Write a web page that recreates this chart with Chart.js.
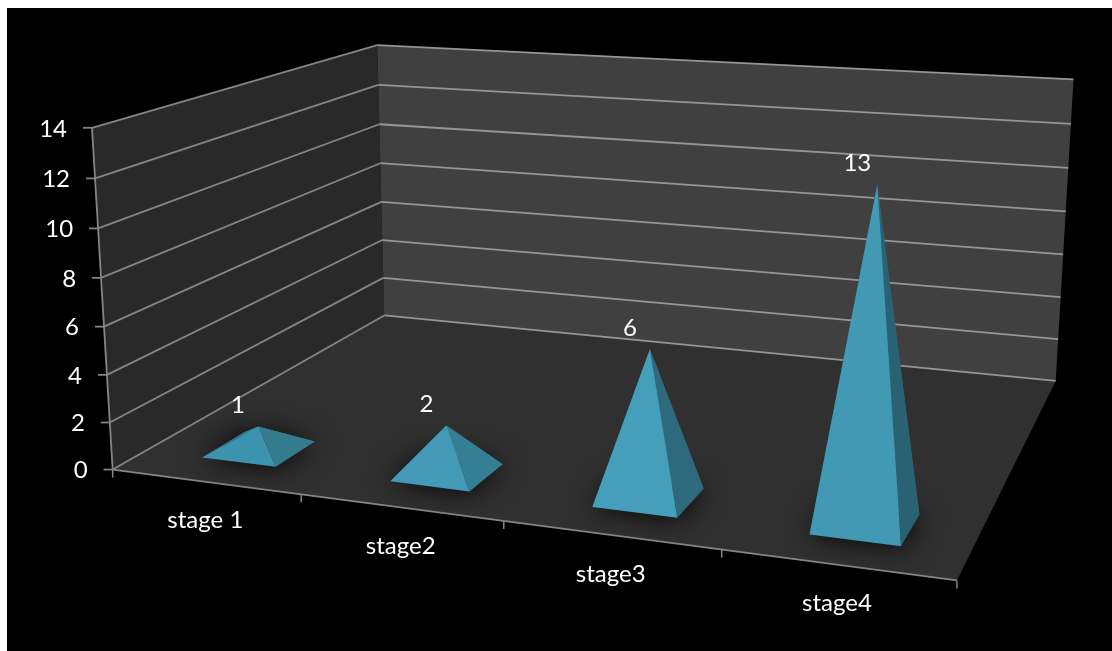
<!DOCTYPE html>
<html>
<head>
<meta charset="utf-8">
<title>Stages</title>
<script src="https://cdn.jsdelivr.net/npm/chart.js@4"></script>
<style>
    html, body { margin: 0; padding: 0; background: #fff; }
    canvas { display: block; }
</style>
</head>
<body>
<canvas id="grafico" width="1112" height="651"></canvas>
<script>
const categorias = ['stage 1', 'stage2', 'stage3', 'stage4'];
const valores = [1, 2, 6, 13];
const escalaMax = 14;
const escalaPaso = 2;

// Colores de cada piramide
const caraFrontal = ['#3c93ad', '#429ab6', '#459fbb', '#4199b4'];
const caraLateral = ['#347b8e', '#347f93', '#2e697e', '#2a6274'];

// Caja del grafico 3D: [u, v, w] -> pixel, u = categorias, v = valor, w = fondo
const esquinas = [
    [[0, 0, 0], [113.3, 469.3]],
    [[0, 1, 0], [91.7, 128.3]],
    [[0, 0, 1], [384, 316]],
    [[0, 1, 1], [377.7, 44.3]],
    [[1, 1, 1], [1073.3, 80]],
    [[1, 0, 1], [1055.7, 380.7]],
    [[1, 0, 0], [958.3, 580]],
    [[0.25, 0, 0], [301, 494.5]],
    [[0.5, 0, 0], [503.5, 521]],
    [[0.75, 0, 0], [720.5, 549.5]]
];
const fondoBase = [0.1, 0.235];
const ajusteBase = 0.002;

function resolver(A, b) {
    const n = b.length;
    for (let i = 0; i < n; i++) {
        let p = i;
        for (let f = i + 1; f < n; f++) {
            if (Math.abs(A[f][i]) > Math.abs(A[p][i])) p = f;
        }
        [A[i], A[p]] = [A[p], A[i]];
        [b[i], b[p]] = [b[p], b[i]];
        for (let f = i + 1; f < n; f++) {
            const k = A[f][i] / A[i][i];
            for (let c = i; c < n; c++) A[f][c] -= k * A[i][c];
            b[f] -= k * b[i];
        }
    }
    const x = new Array(n).fill(0);
    for (let i = n - 1; i >= 0; i--) {
        let s = b[i];
        for (let c = i + 1; c < n; c++) s -= A[i][c] * x[c];
        x[i] = s / A[i][i];
    }
    return x;
}

// Ajusta la matriz de proyeccion por minimos cuadrados
function ajustarCamara(puntos) {
    const filas = [];
    const lado = [];
    puntos.forEach(([[u, v, w], [px, py]]) => {
        const x = px / 1000, y = py / 1000;
        filas.push([u, v, w, 1, 0, 0, 0, 0, -x * u, -x * v, -x * w]);
        lado.push(x);
        filas.push([0, 0, 0, 0, u, v, w, 1, -y * u, -y * v, -y * w]);
        lado.push(y);
    });
    const A = [];
    const b = [];
    for (let i = 0; i < 11; i++) {
        A.push([]);
        for (let j = 0; j < 11; j++) {
            A[i].push(filas.reduce((s, f) => s + f[i] * f[j], 0));
        }
        b.push(filas.reduce((s, f, k) => s + f[i] * lado[k], 0));
    }
    return resolver(A, b);
}

const M = ajustarCamara(esquinas);

function proyectar(u, v, w) {
    const d = M[8] * u + M[9] * v + M[10] * w + 1;
    return [
        1000 * (M[0] * u + M[1] * v + M[2] * w + M[3]) / d,
        1000 * (M[4] * u + M[5] * v + M[6] * w + M[7]) / d
    ];
}

function poligono(ctx, puntos) {
    ctx.beginPath();
    puntos.forEach((p, i) => i ? ctx.lineTo(p[0], p[1]) : ctx.moveTo(p[0], p[1]));
    ctx.closePath();
}

function linea(ctx, a, b, color, ancho) {
    ctx.strokeStyle = color;
    ctx.lineWidth = ancho;
    ctx.beginPath();
    ctx.moveTo(a[0], a[1]);
    ctx.lineTo(b[0], b[1]);
    ctx.stroke();
}

const fuente = '24px Lato, "Open Sans", sans-serif';

const caja3D = {
    id: 'caja3D',
    // paredes, suelo, rejilla y ejes
    beforeDatasetsDraw(chart) {
        const ctx = chart.ctx;
        const x = chart.scales.x;
        const y = chart.scales.y;
        const area = chart.chartArea;
        const colorRejilla = '#858585';

        ctx.save();
        ctx.fillStyle = '#000';
        ctx.fillRect(7, 8, chart.width - 7, chart.height - 8);

        ctx.fillStyle = '#292929';
        poligono(ctx, [proyectar(0, 0, 0), proyectar(0, 1, 0), proyectar(0, 1, 1), proyectar(0, 0, 1)]);
        ctx.fill();
        ctx.fillStyle = '#404040';
        poligono(ctx, [proyectar(0, 0, 1), proyectar(0, 1, 1), proyectar(1, 1, 1), proyectar(1, 0, 1)]);
        ctx.fill();
        ctx.fillStyle = '#303030';
        poligono(ctx, [proyectar(0, 0, 0), proyectar(0, 0, 1), proyectar(1, 0, 1), proyectar(1, 0, 0)]);
        ctx.fill();

        ctx.font = fuente;
        ctx.fillStyle = '#fff';
        ctx.textAlign = 'right';
        ctx.textBaseline = 'middle';
        y.ticks.forEach(t => {
            const v = (area.bottom - y.getPixelForValue(t.value)) / area.height;
            const frente = proyectar(0, v, 0);
            const fondo = proyectar(0, v, 1);
            linea(ctx, frente, fondo, colorRejilla, 1.8);
            linea(ctx, fondo, proyectar(1, v, 1), '#969696', 1.8);
            linea(ctx, [frente[0] - 9, frente[1]], frente, colorRejilla, 1.8);
            ctx.fillText(t.label, frente[0] - 25, frente[1] + 1);
        });

        linea(ctx, proyectar(0, 0, 0), proyectar(0, 1, 0), colorRejilla, 1.8);
        linea(ctx, proyectar(0, 0, 0), proyectar(1, 0, 0), colorRejilla, 1.8);

        // marcas entre categorias
        for (let i = 0; i <= categorias.length; i++) {
            const p = proyectar(i / categorias.length, 0, 0);
            linea(ctx, p, [p[0], p[1] + 8], colorRejilla, 1.5);
        }

        ctx.textAlign = 'center';
        categorias.forEach((nombre, i) => {
            const u = (x.getPixelForValue(i) - area.left) / area.width;
            const p = proyectar(u, 0, 0);
            ctx.fillText(nombre, p[0], p[1] + 39);
        });
        ctx.restore();
    },
    // piramides a partir de las barras ya calculadas por Chart.js
    afterDatasetsDraw(chart) {
        const ctx = chart.ctx;
        const area = chart.chartArea;
        const barras = chart.getDatasetMeta(0).data;
        const [w0, w1] = fondoBase;

        ctx.save();
        barras.forEach((barra, i) => {
            const u0 = (barra.x - barra.width / 2 - area.left) / area.width + ajusteBase;
            const u1 = (barra.x + barra.width / 2 - area.left) / area.width + ajusteBase;
            const uc = (u0 + u1) / 2;
            const v = (area.bottom - barra.y) / area.height;

            const fi = proyectar(u0, 0, w0);
            const fd = proyectar(u1, 0, w0);
            const ad = proyectar(u1, 0, w1);
            const ai = proyectar(u0, 0, w1);
            const cima = proyectar(uc, v, (w0 + w1) / 2);

            // sombra sobre el suelo
            ctx.save();
            ctx.shadowColor = 'rgba(0, 0, 0, 0.95)';
            ctx.shadowBlur = 28;
            ctx.fillStyle = '#1a1a1a';
            poligono(ctx, [fi, fd, ad, ai]);
            ctx.fill();
            ctx.restore();

            ctx.fillStyle = caraLateral[i];
            poligono(ctx, [ai, ad, cima]);
            ctx.fill();
            poligono(ctx, [fi, ai, cima]);
            ctx.fill();

            poligono(ctx, [fd, ad, cima]);
            ctx.fill();
            ctx.fillStyle = caraFrontal[i];
            poligono(ctx, [fi, fd, cima]);
            ctx.fill();

            ctx.font = fuente;
            ctx.fillStyle = '#fff';
            ctx.textAlign = 'center';
            ctx.textBaseline = 'middle';
            ctx.fillText(String(valores[i]), cima[0] - 20, cima[1] - 21);
        });
        ctx.restore();
    }
};

new Chart(document.getElementById('grafico'), {
    type: 'bar',
    data: {
        labels: categorias,
        datasets: [{
            label: 'Valores',
            data: valores,
            backgroundColor: 'transparent',
            borderWidth: 0,
            barPercentage: 0.4,
            categoryPercentage: 1
        }]
    },
    options: {
        responsive: false,
        animation: false,
        layout: { padding: 0 },
        plugins: {
            legend: { display: false },
            tooltip: { enabled: false }
        },
        scales: {
            x: { display: false },
            y: {
                display: false,
                min: 0,
                max: escalaMax,
                ticks: { stepSize: escalaPaso }
            }
        }
    },
    plugins: [caja3D]
});
</script>
</body>
</html>
